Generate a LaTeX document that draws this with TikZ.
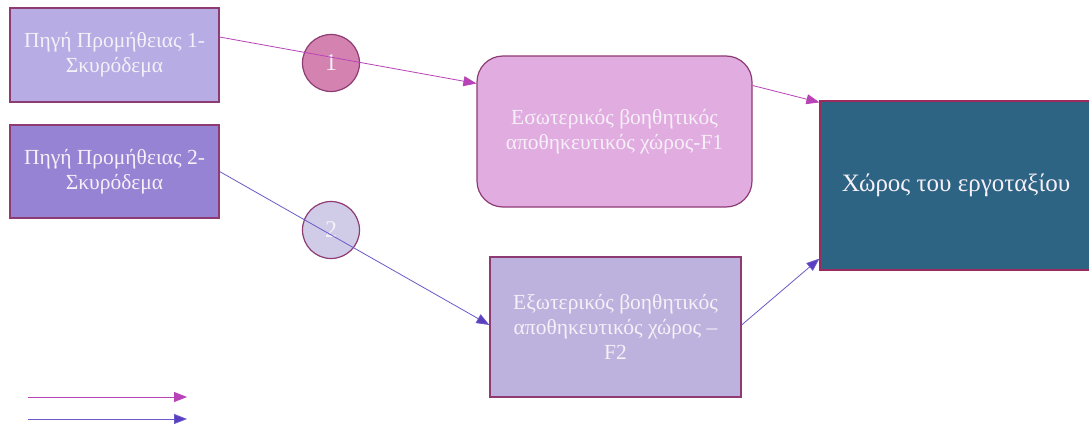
\documentclass[tikz,border=0pt]{standalone}
\usepackage{fontspec}
\setmainfont{Liberation Serif}
\usetikzlibrary{arrows.meta}

\definecolor{plum}{HTML}{8E3B74}
\definecolor{srconefill}{HTML}{B7ACE4}
\definecolor{srctwofill}{HTML}{9683D4}
\definecolor{dotonefill}{HTML}{D483B0}
\definecolor{dottwofill}{HTML}{D0CBE7}
\definecolor{fonefill}{HTML}{E1ACE0}
\definecolor{ftwofill}{HTML}{BDB2DD}
\definecolor{sitefill}{HTML}{2D6383}
\definecolor{siteedge}{HTML}{9B2B5C}
\definecolor{flowmag}{HTML}{B843B8}
\definecolor{flowvio}{HTML}{6A5AC8}
\definecolor{tipvio}{HTML}{5A3EC0}
\definecolor{txt}{HTML}{F6F0F8}

\tikzset{
  box/.style={draw=plum, line width=1.2pt, text=txt, align=center,
    font=\fontsize{21.5}{25}\selectfont, inner sep=0pt},
  dot/.style={circle, draw=plum, line width=1.2pt, minimum size=57pt,
    text=txt, font=\fontsize{24}{26}\selectfont, inner sep=0pt},
  magflow/.style={draw=flowmag, line width=0.8pt,
    -{Triangle[length=13pt,width=10pt,fill=flowmag]}},
  vioflow/.style={draw=flowvio, line width=0.8pt,
    -{Triangle[length=13pt,width=10pt,fill=tipvio]}},
}

\begin{document}
\begin{tikzpicture}[x=1pt,y=-1pt]
  \useasboundingbox[fill=white] (0,0) rectangle (1089,428);

  % supply sources
  \node[box, fill=srconefill, minimum width=209pt, minimum height=94pt]
    (src1) at (114.5,55) {Πηγή Προμήθειας 1-\\Σκυρόδεμα};
  \node[box, fill=srctwofill, minimum width=209pt, minimum height=93pt]
    (src2) at (114.5,171.5) {Πηγή Προμήθειας 2-\\Σκυρόδεμα};

  % route markers
  \node[dot, fill=dotonefill] (m1) at (331,63) {1};
  \node[dot, fill=dottwofill] (m2) at (331,230) {2};

  % auxiliary storage areas
  \node[box, fill=fonefill, rounded corners=26pt,
    minimum width=275pt, minimum height=151pt] (f1) at (614.5,131.5)
    {Εσωτερικός βοηθητικός\\αποθηκευτικός χώρος-F1};
  \node[box, fill=ftwofill, minimum width=251pt, minimum height=140pt]
    (f2) at (615.5,327) {Εξωτερικός βοηθητικός\\αποθηκευτικός χώρος –\\F2};

  % worksite
  \node[box, draw=siteedge, fill=sitefill, minimum width=272pt,
    minimum height=169pt, font=\fontsize{25}{28}\selectfont]
    (site) at (956,185.5) {Χώρος του εργοταξίου};

  % material flows
  \draw[magflow] ([yshift=18pt]src1.east) -- ([yshift=48pt]f1.west);
  \draw[vioflow] (src2.east) -- ([yshift=2pt]f2.west);
  \draw[magflow] ([yshift=46pt]f1.east) -- ([yshift=-2pt]site.north west);
  \draw[vioflow] ([yshift=2pt]f2.east) -- ([yshift=12pt]site.south west);

  % legend
  \coordinate (la1) at (28,397);
  \coordinate (lb1) at (187,397);
  \coordinate (la2) at (28,419);
  \coordinate (lb2) at (187,419);
  \draw[magflow] (la1) -- (lb1);
  \draw[vioflow] (la2) -- (lb2);
\end{tikzpicture}
\end{document}
